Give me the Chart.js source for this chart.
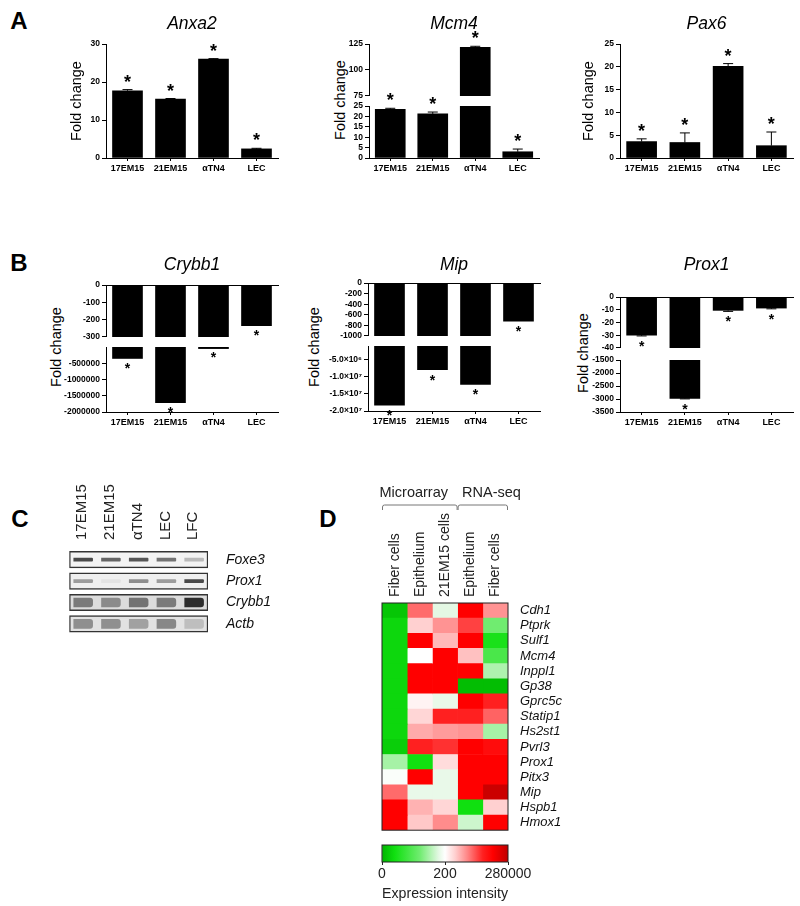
<!DOCTYPE html>
<html>
<head>
<meta charset="utf-8">
<script src="https://cdn.jsdelivr.net/npm/chart.js@4.4.1/dist/chart.umd.min.js"></script>
<style>
  body { margin: 0; background: #fff; }
  #page { position: relative; width: 800px; height: 906px; overflow: hidden; font-family: "Liberation Sans", Arial, sans-serif; color: #000; }
  #page canvas { position: absolute; }
  .tag { position: absolute; font-weight: bold; font-size: 24px; transform: translate(-50%, -50%); }
  .ylab { position: absolute; font-size: 14.5px; white-space: nowrap; transform: translate(-50%, -50%) rotate(-90deg); }
</style>
</head>
<body>
<div id="page">
  <div class="tag" style="left:19px;top:21px">A</div>
  <div class="tag" style="left:19px;top:263px">B</div>
  <div class="tag" style="left:20px;top:519px">C</div>
  <div class="tag" style="left:328px;top:519px">D</div>
  <div class="ylab" style="left:340px;top:100px">Fold change</div>
  <div class="ylab" style="left:56px;top:347px">Fold change</div>
  <div class="ylab" style="left:314px;top:347px">Fold change</div>
  <div class="ylab" style="left:583px;top:353px">Fold change</div>
</div>
<script>
Chart.defaults.font.family = '"Liberation Sans", Arial, sans-serif';
Chart.defaults.color = '#000';

// ---- data ----
const cells = ['17EM15', '21EM15', 'αTN4', 'LEC'];

const anxa2 = [17.7, 15.5, 26.0, 2.4];
const anxa2Err = [0.3, 0.15, 0.15, 0.15];
const anxa2Ticks = [0, 10, 20, 30];

const mcm4 = [23.4, 21.2, 121.9, 3.0];
const mcm4Err = [0.5, 0.9, 0.9, 1.3];
const mcm4TopTicks = [75, 100, 125];
const mcm4LowTicks = [0, 5, 10, 15, 20, 25];

const pax6 = [3.6, 3.4, 20.1, 2.7];
const pax6Err = [0.6, 2.1, 0.6, 3.0];
const pax6Ticks = [0, 5, 10, 15, 20, 25];

const crybb1 = [-350000, -1710000, -400, -235];
const crybb1TopTicks = [0, -100, -200, -300];
const crybb1LowTicks = [-500000, -1000000, -1500000, -2000000];

const mip = [-18300000, -7900000, -12200000, -720];
const mipTopTicks = [0, -200, -400, -600, -800, -1000];
const mipLowTicks = [-5000000, -10000000, -15000000, -20000000];

const prox1 = [-30, -2980, -10.5, -8.7];
const prox1Err = [0.6, 15, 0.8, 0.6];
const prox1TopTicks = [0, -10, -20, -30, -40];
const prox1LowTicks = [-1500, -2000, -2500, -3000, -3500];

const lanes = ['17EM15', '21EM15', 'αTN4', 'LEC', 'LFC'];
const blotRows = ['Foxe3', 'Prox1', 'Crybb1', 'Actb'];
const foxe3Band = [0.6, 0.5, 0.55, 0.45, 0.2];
const prox1Band = [0.3, 0.04, 0.35, 0.3, 0.6];
const crybb1Band = [0.55, 0.45, 0.6, 0.55, 1.0];
const actbBand = [0.45, 0.45, 0.35, 0.5, 0.2];

const genes = ['Cdh1', 'Ptprk', 'Sulf1', 'Mcm4', 'Inppl1', 'Gp38', 'Gprc5c', 'Statip1',
               'Hs2st1', 'Pvrl3', 'Prox1', 'Pitx3', 'Mip', 'Hspb1', 'Hmox1'];
const sampleCols = ['Fiber cells', 'Epithelium', '21EM15 cells', 'Epithelium', 'Fiber cells'];
const groupNames = ['Microarray', 'RNA-seq'];
const groupSizes = [3, 2];
const fiberMA  = [0.04, 0.08, 0.08, 0.08, 0.08, 0.08, 0.08, 0.08, 0.08, 0.06, 0.37, 0.49, 0.71, 0.88, 0.88];
const epiMA    = [0.71, 0.58, 0.88, 0.50, 0.88, 0.88, 0.52, 0.57, 0.63, 0.80, 0.10, 0.88, 0.46, 0.62, 0.59];
const em21     = [0.45, 0.66, 0.61, 0.88, 0.88, 0.88, 0.46, 0.80, 0.65, 0.78, 0.56, 0.46, 0.46, 0.57, 0.67];
const epiRNA   = [0.88, 0.76, 0.88, 0.60, 0.88, 0.02, 0.88, 0.80, 0.66, 0.88, 0.88, 0.88, 0.88, 0.10, 0.42];
const fiberRNA = [0.66, 0.30, 0.12, 0.22, 0.38, 0.02, 0.80, 0.72, 0.37, 0.85, 0.88, 0.88, 0.98, 0.58, 0.88];
const cbarTicks = [0, 0.5, 1];
const cbarLabels = ['0', '200', '280000'];

// ---- colour map ----
const cmapStops  = [0, 0.1, 0.3, 0.45, 0.5, 0.58, 0.68, 0.8, 0.88, 1];
const cmapColors = ['#00b400', '#10e010', '#70ec70', '#e4f8e4', '#ffffff', '#ffd0d0', '#ff8484', '#ff2020', '#ff0000', '#c00000'];
const hex = h => [1, 3, 5].map(k => parseInt(h.substr(k, 2), 16));
function cmap(t) {
  let i = 1;
  while (i < cmapStops.length - 1 && t > cmapStops[i]) i++;
  const f = Math.min(1, Math.max(0, (t - cmapStops[i - 1]) / (cmapStops[i] - cmapStops[i - 1])));
  const a = hex(cmapColors[i - 1]), b = hex(cmapColors[i]);
  return 'rgb(' + a.map((v, k) => Math.round(v + (b[k] - v) * f)).join(',') + ')';
}

// ---- helpers ----
const page = document.getElementById('page');
function mount(ca, m) {
  const cv = document.createElement('canvas');
  cv.width = ca.r - ca.l + m.l + m.r;
  cv.height = ca.b - ca.t + m.t + m.b;
  cv.style.left = (ca.l - m.l) + 'px';
  cv.style.top = (ca.t - m.t) + 'px';
  page.appendChild(cv);
  return cv;
}
const fixW = w => s => { s.width = w; };
const fixH = h => s => { s.height = h; };
const useTicks = vals => s => { s.ticks = vals.map(v => ({ value: v })); };
const plain = v => String(v);
const sup = { '6': '⁶', '7': '⁷' };
const sci = v => {
  const e = Math.floor(Math.log10(Math.abs(v)));
  return (v / Math.pow(10, e)).toFixed(1) + '×10' + sup[e];
};

// error bars + asterisks
const marks = {
  id: 'marks',
  afterDatasetsDraw(chart, args, o) {
    const { ctx } = chart, y = chart.scales.y;
    const ds = chart.data.datasets[0], meta = chart.getDatasetMeta(0);
    ctx.save();
    ctx.strokeStyle = '#000';
    ctx.fillStyle = '#000';
    ctx.lineWidth = 1;
    ctx.font = 'bold ' + o.star + 'px "Liberation Sans", Arial';
    ctx.textAlign = 'center';
    ctx.textBaseline = 'alphabetic';
    meta.data.forEach((bar, i) => {
      const v = ds.data[i];
      if (v == null || v < y.min || v > y.max) return;
      const e = o.err ? o.err[i] : 0;
      const dir = v < 0 ? 1 : -1;
      const y0 = y.getPixelForValue(v);
      const y1 = y.getPixelForValue(v + Math.sign(v) * e);
      if (e) {
        ctx.beginPath();
        ctx.moveTo(bar.x, y0);
        ctx.lineTo(bar.x, y1);
        ctx.moveTo(bar.x - 5, y1);
        ctx.lineTo(bar.x + 5, y1);
        ctx.stroke();
      }
      const cy = (dir > 0 ? Math.max(y0, y1) : Math.min(y0, y1)) + dir * o.gap;
      ctx.fillText('*', bar.x, cy + 0.56 * o.star);
    });
    ctx.restore();
  }
};

function barChart(ca, m, o) {
  const lh = 21;
  const tTop = o.title ? o.titleY - lh / 2 - (ca.t - m.t) : 0;
  const bottomAxis = o.x === 'bottom';
  return new Chart(mount(ca, m), {
    type: 'bar',
    data: {
      labels: cells,
      datasets: [{ data: o.data, backgroundColor: '#000', borderWidth: 0, barThickness: 30, clip: 0, minBarLength: o.minBar || 0 }]
    },
    options: {
      responsive: false, animation: false, devicePixelRatio: 1,
      layout: { padding: { left: 0, right: m.r, top: o.title ? 0 : m.t, bottom: bottomAxis ? 0 : m.b } },
      plugins: {
        legend: { display: false },
        tooltip: { enabled: false },
        title: {
          display: !!o.title, text: o.title, fullSize: false, color: '#000',
          font: { size: 17.5, style: 'italic', weight: 'normal' },
          padding: { top: tTop, bottom: m.t - tTop - lh }
        },
        marks: { err: o.err, gap: o.gap, star: o.star }
      },
      scales: {
        x: {
          display: o.x !== 'none',
          position: o.x === 'top' ? 'top' : 'bottom',
          grid: { display: bottomAxis, drawOnChartArea: false, offset: false, tickLength: 3, color: '#000' },
          border: { color: '#000', width: 1 },
          ticks: { display: bottomAxis, font: { size: 9, weight: 'bold' }, padding: 2, maxRotation: 0, autoSkip: false },
          afterFit: fixH(bottomAxis ? m.b : 0)
        },
        y: {
          min: o.min, max: o.max,
          afterBuildTicks: useTicks(o.ticks),
          grid: { drawOnChartArea: false, tickLength: 4, color: '#000' },
          border: { color: '#000', width: 1 },
          ticks: { font: { size: 8.5, weight: 'bold' }, padding: 2, autoSkip: false, callback: o.fmt || plain },
          title: { display: !!o.yTitle, text: o.yTitle, font: { size: 14.5 }, padding: { top: 4, bottom: 0 } },
          afterFit: fixW(m.l)
        }
      }
    },
    plugins: [marks]
  });
}

// ---- panel A ----
barChart({ l: 106, t: 44, r: 278, b: 158 }, { l: 42, t: 44, r: 12, b: 24 },
  { data: anxa2, err: anxa2Err, min: 0, max: 30, ticks: anxa2Ticks, title: 'Anxa2', titleY: 24,
    yTitle: 'Fold change', x: 'bottom', gap: 12, star: 18 });

barChart({ l: 369, t: 44, r: 539, b: 97 }, { l: 40, t: 44, r: 12, b: 6 },
  { data: mcm4, err: mcm4Err, min: 75, max: 125, ticks: mcm4TopTicks, title: 'Mcm4', titleY: 24,
    x: 'none', gap: 12, star: 18 });
barChart({ l: 369, t: 106, r: 539, b: 158 }, { l: 40, t: 22, r: 12, b: 24 },
  { data: mcm4, err: mcm4Err, min: 0, max: 25, ticks: mcm4LowTicks, x: 'bottom', gap: 12, star: 18 });

barChart({ l: 620, t: 44, r: 793, b: 158 }, { l: 44, t: 44, r: 7, b: 24 },
  { data: pax6, err: pax6Err, min: 0, max: 25, ticks: pax6Ticks, title: 'Pax6', titleY: 24,
    yTitle: 'Fold change', x: 'bottom', gap: 12, star: 18 });

// ---- panel B (broken axes: upper + lower segment) ----
barChart({ l: 106, t: 285, r: 278, b: 338 }, { l: 50, t: 40, r: 12, b: 6 },
  { data: crybb1, min: -300, max: 0, ticks: crybb1TopTicks, title: 'Crybb1', titleY: 265,
    x: 'top', gap: 7, star: 14 });
barChart({ l: 106, t: 345.5, r: 278, b: 412 }, { l: 50, t: 6, r: 12, b: 24 },
  { data: crybb1.map(v => (v < -300 ? v : null)), min: -2000000, max: 0, ticks: crybb1LowTicks,
    x: 'bottom', gap: 7, star: 14, minBar: 1.5 });

barChart({ l: 368, t: 283, r: 540, b: 337 }, { l: 52, t: 38, r: 12, b: 6 },
  { data: mip, min: -1000, max: 0, ticks: mipTopTicks, title: 'Mip', titleY: 265,
    x: 'top', gap: 7, star: 14 });
barChart({ l: 368, t: 345, r: 540, b: 411 }, { l: 52, t: 6, r: 12, b: 24 },
  { data: mip.map(v => (v < -1000 ? v : null)), min: -20000000, max: -1000000, ticks: mipLowTicks,
    fmt: sci, x: 'bottom', gap: 7, star: 14 });

barChart({ l: 620, t: 297, r: 793, b: 349 }, { l: 40, t: 52, r: 7, b: 6 },
  { data: prox1, err: prox1Err, min: -40, max: 0, ticks: prox1TopTicks, title: 'Prox1', titleY: 265,
    x: 'top', gap: 7, star: 14 });
barChart({ l: 620, t: 359, r: 793, b: 412 }, { l: 40, t: 6, r: 7, b: 24 },
  { data: prox1.map(v => (v < -40 ? v : null)), err: prox1Err, min: -3500, max: -1500, ticks: prox1LowTicks,
    x: 'bottom', gap: 7, star: 14 });

// ---- panel C : blot ----
const bandsByRow = [foxe3Band, prox1Band, crybb1Band, actbBand];
const blotFill = ['#f3f3f3', '#efefef', '#dcdcdc', '#e2e2e2'];
const blotSets = [];
lanes.forEach((lane, i) => {
  [[0, 1, 3, 1.3], [2, 3, 9, 0.9]].forEach(([r0, r1, thick, gain]) => {
    blotSets.push({
      data: blotRows.map((r, k) => (k === r0 || k === r1 ? [i + 0.16, i + 0.84] : null)),
      backgroundColor: bandsByRow.map(b => 'rgba(25,25,25,' + Math.min(1, b[i] * gain).toFixed(2) + ')'),
      borderWidth: 0, barThickness: thick, borderRadius: thick > 4 ? 3 : 1, grouped: false, order: 1
    });
  });
});
blotSets.push({
  data: blotRows.map(() => [0, 5]), backgroundColor: blotFill, borderColor: '#333', borderWidth: 1.5,
  borderSkipped: false, barThickness: 16.5, grouped: false, order: 2
});
const blotCa = { l: 66, t: 549, r: 208, b: 649 }, blotM = { l: 2, t: 70, r: 62, b: 4 };
new Chart(mount(blotCa, blotM), {
  type: 'bar',
  data: { labels: blotRows, datasets: blotSets },
  options: {
    indexAxis: 'y', responsive: false, animation: false, devicePixelRatio: 1,
    layout: { padding: { left: blotM.l, right: 0, top: 0, bottom: blotM.b } },
    plugins: { legend: { display: false }, tooltip: { enabled: false } },
    scales: {
      x: {
        type: 'linear', position: 'top', min: 0, max: 5,
        afterBuildTicks: useTicks(lanes.map((_, i) => i + 0.5)),
        ticks: { callback: (v, i) => lanes[i], minRotation: 90, maxRotation: 90, autoSkip: false, font: { size: 15 }, color: '#222', padding: 1, labelOffset: 17 },
        grid: { display: false }, border: { display: false },
        afterFit: fixH(blotM.t)
      },
      y: {
        position: 'right',
        ticks: { font: { size: 14, style: 'italic' }, color: '#111', padding: 10, autoSkip: false },
        grid: { display: false }, border: { display: false },
        afterFit: fixW(blotM.r)
      }
    }
  }
});

// ---- panel D : heatmap ----
const frame = {
  id: 'frame',
  afterDatasetsDraw(chart) {
    const { ctx, chartArea: a } = chart;
    ctx.save();
    ctx.strokeStyle = '#222';
    ctx.lineWidth = 1;
    ctx.strokeRect(a.left, a.top, a.right - a.left, a.bottom - a.top);
    ctx.restore();
  }
};
const groups = {
  id: 'groups',
  afterDraw(chart, args, o) {
    const { ctx } = chart, x = chart.scales.x;
    ctx.save();
    ctx.font = '14.5px "Liberation Sans", Arial';
    ctx.fillStyle = '#222';
    ctx.strokeStyle = '#777';
    ctx.lineWidth = 1;
    ctx.textBaseline = 'middle';
    ctx.textAlign = 'left';
    let start = 0;
    groupNames.forEach((name, g) => {
      const end = start + groupSizes[g];
      const x0 = x.getPixelForValue(start) + 0.5, x1 = x.getPixelForValue(end) - 0.5;
      ctx.beginPath();
      ctx.moveTo(x0, o.bracketY + 5);
      ctx.lineTo(x0, o.bracketY + 2);
      ctx.quadraticCurveTo(x0, o.bracketY, x0 + 2, o.bracketY);
      ctx.lineTo(x1 - 2, o.bracketY);
      ctx.quadraticCurveTo(x1, o.bracketY, x1, o.bracketY + 2);
      ctx.lineTo(x1, o.bracketY + 5);
      ctx.stroke();
      ctx.fillText(name, x0 + o.dx[g], o.textY);
      start = end;
    });
    ctx.restore();
  }
};
const heatCols = [fiberMA, epiMA, em21, epiRNA, fiberRNA];
const heatCa = { l: 382, t: 603, r: 508, b: 838 }, heatM = { l: 12, t: 123, r: 62, b: 4 };
new Chart(mount(heatCa, heatM), {
  type: 'bar',
  data: {
    labels: genes,
    datasets: heatCols.map((col, c) => ({
      data: genes.map(() => [c, c + 1]),
      backgroundColor: col.map(cmap),
      borderWidth: 0, barPercentage: 1, categoryPercentage: 1, grouped: false
    }))
  },
  options: {
    indexAxis: 'y', responsive: false, animation: false, devicePixelRatio: 1,
    layout: { padding: { left: heatM.l, right: 0, top: 0, bottom: heatM.b } },
    plugins: {
      legend: { display: false }, tooltip: { enabled: false },
      groups: { textY: 13, bracketY: 25, dx: [-3, 4] }
    },
    scales: {
      x: {
        type: 'linear', position: 'top', min: 0, max: 5,
        afterBuildTicks: useTicks(sampleCols.map((_, i) => i + 0.5)),
        ticks: { callback: (v, i) => sampleCols[i], minRotation: 90, maxRotation: 90, autoSkip: false, font: { size: 14 }, color: '#222', padding: -2, labelOffset: 17 },
        grid: { display: false }, border: { display: false },
        afterFit: fixH(heatM.t)
      },
      y: {
        position: 'right',
        ticks: { font: { size: 13, style: 'italic' }, color: '#111', padding: 4, autoSkip: false },
        grid: { display: false }, border: { display: false },
        afterFit: fixW(heatM.r)
      }
    }
  },
  plugins: [frame, groups]
});

// colour bar
const cbarCa = { l: 382, t: 845, r: 508, b: 862 }, cbarM = { l: 42, t: 5, r: 52, b: 44 };
new Chart(mount(cbarCa, cbarM), {
  type: 'bar',
  data: {
    labels: ['intensity'],
    datasets: [{
      data: [[0, 1]],
      backgroundColor(ctx) {
        const a = ctx.chart.chartArea;
        if (!a) return null;
        const g = ctx.chart.ctx.createLinearGradient(a.left, 0, a.right, 0);
        cmapStops.forEach((s, i) => g.addColorStop(s, cmapColors[i]));
        return g;
      },
      borderWidth: 0, barPercentage: 1, categoryPercentage: 1
    }]
  },
  options: {
    indexAxis: 'y', responsive: false, animation: false, devicePixelRatio: 1,
    layout: { padding: { left: cbarM.l, right: cbarM.r, top: cbarM.t, bottom: 0 } },
    plugins: { legend: { display: false }, tooltip: { enabled: false } },
    scales: {
      x: {
        type: 'linear', min: 0, max: 1,
        afterBuildTicks: useTicks(cbarTicks),
        ticks: { callback: (v, i) => cbarLabels[i], font: { size: 14 }, color: '#222', padding: 1, maxRotation: 0, autoSkip: false },
        grid: { drawOnChartArea: false, tickLength: 3, color: '#222' },
        border: { display: false },
        title: { display: true, text: 'Expression intensity', font: { size: 15 }, color: '#222', padding: { top: 2, bottom: 3 } },
        afterFit: fixH(cbarM.b)
      },
      y: { display: false }
    }
  },
  plugins: [frame]
});
</script>
</body>
</html>
